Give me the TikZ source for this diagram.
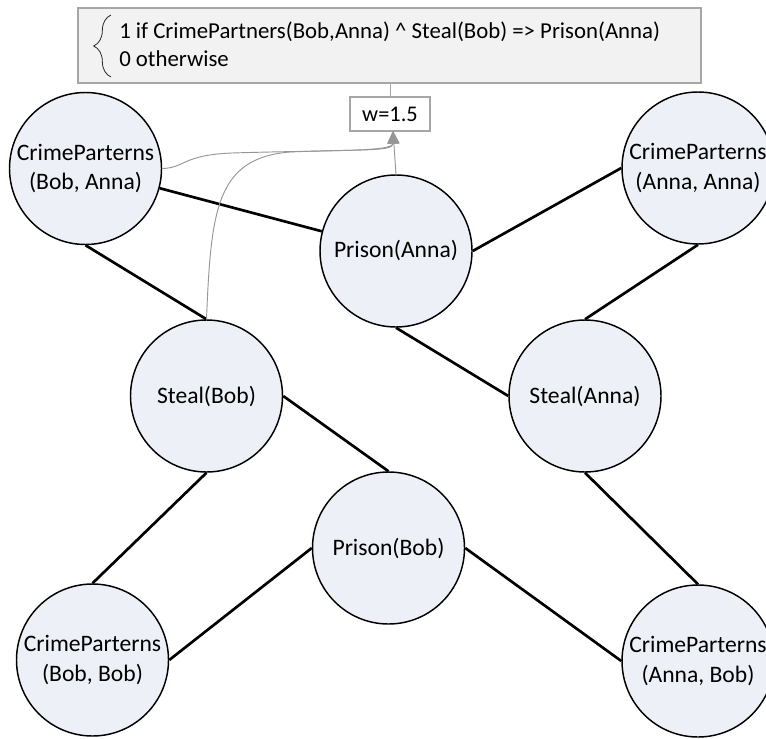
\documentclass[tikz,border=0pt]{standalone}
\usepackage{fontspec}
\setmainfont{Carlito}
\usetikzlibrary{arrows.meta,decorations.pathreplacing}

\definecolor{circfill}{RGB}{237,240,246}
\definecolor{boxfill}{RGB}{242,242,242}
\definecolor{boxline}{RGB}{166,166,166}
\definecolor{linkgray}{RGB}{150,150,150}

\tikzset{
  var/.style={circle, draw=black, line width=1.1pt, fill=circfill,
    minimum size=114pt, inner sep=0pt, align=center,
    font=\fontsize{17.7}{21.8}\selectfont},
  edge/.style={draw=black, line width=2pt},
  rulebox/.style={draw=boxline, fill=boxfill, line width=0.8pt,
    minimum width=467.25pt, minimum height=56.25pt, inner sep=0pt},
  ruleline/.style={anchor=base west, inner sep=0pt,
    font=\fontsize{17.1}{20.5}\selectfont},
  weightbox/.style={draw=boxline, fill=white, line width=0.8pt,
    minimum width=60pt, minimum height=25.5pt, inner sep=0pt,
    font=\fontsize{16.8}{20}\selectfont},
  infl/.style={draw=linkgray, line width=0.7pt,
    -{Triangle[length=9.5pt,width=8.5pt]}},
}

\begin{document}
\begin{tikzpicture}[x=0.75pt,y=-0.75pt]
\path[use as bounding box, clip] (0,0) rectangle (766,738);

% formula box with the weight attached below it
\node[rulebox] (rule) at (389.5,45.5) {};
\node[ruleline] (line1) at (119,39) {1 if CrimePartners(Bob,Anna) \^{} Steal(Bob) => Prison(Anna)};
\node[ruleline] (line2) at (119,67) {0 otherwise};
\draw[black!85, line width=0.6pt, decorate,
      decoration={brace, amplitude=13pt}] (111,77) -- (111,15);
\node[weightbox] (w) at (390,114) {w=1.5};
\draw[draw=boxline, line width=0.6pt] (rule.south -| w.north) -- (w.north);

% ground atoms
\node[var] (cpba) at (85.5,168.5) {CrimeParterns\\(Bob, Anna)};
\node[var] (pa)   at (396,251)    {Prison(Anna)};
\node[var] (cpaa) at (698,168)    {CrimeParterns\\(Anna, Anna)};
\node[var] (sb)   at (206.5,396)  {Steal(Bob)};
\node[var] (sa)   at (585,396)    {Steal(Anna)};
\node[var] (pb)   at (388.5,548)  {Prison(Bob)};
\node[var] (cpbb) at (92.5,660)   {CrimeParterns\\(Bob, Bob)};
\node[var] (cpab) at (698,661)    {CrimeParterns\\(Anna, Bob)};

% factor connections
\draw[edge] (cpba) -- (pa);
\draw[edge] (cpba.south) -- (sb.north);
\draw[edge] (pa.east) -- (cpaa.west);
\draw[edge] (cpaa.south) -- (sa.north);
\draw[edge] (pa.south) -- (sa.west);
\draw[edge] (sb.east) -- (pb.north);
\draw[edge] (sb.south) -- (cpbb.north);
\draw[edge] (pb.west) -- (cpbb.east);
\draw[edge] (pb.east) -- (cpab.west);
\draw[edge] (sa.south) -- (cpab.north);

% atoms feeding the weighted formula
\coordinate (tip) at (393,131);
\draw[infl] (cpba.east) .. controls (185,168) and (182,155) .. (232,153)
            .. controls (330,150) and (393,152) .. (tip);
\draw[infl] (sb.north) .. controls (211,210) and (216,158) .. (290,152)
            .. controls (360,149) and (393,152) .. (tip);
\draw[infl] (pa.north) -- (tip);
\end{tikzpicture}
\end{document}
